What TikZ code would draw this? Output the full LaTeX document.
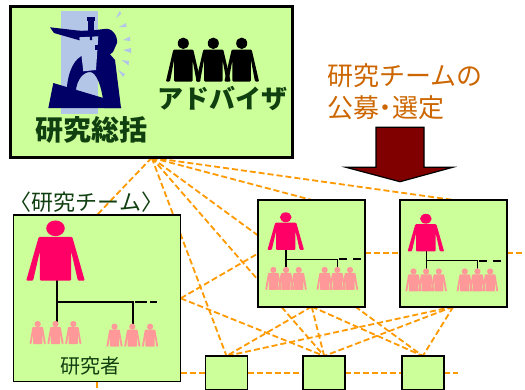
\documentclass[tikz,border=0pt]{standalone}
\usepackage{fontspec}
\newfontfamily\jp{Noto Sans CJK JP}
\pgfdeclarelayer{background}
\pgfsetlayers{background,main}
\definecolor{boxfill}{HTML}{CCFF99}
\definecolor{linkorange}{HTML}{FF9900}
\definecolor{leadpink}{HTML}{FF0066}
\definecolor{memberpink}{HTML}{FF9999}
\definecolor{navy}{HTML}{000066}
\definecolor{pale}{HTML}{B4C6E7}
\definecolor{ink}{HTML}{103F10}
\definecolor{callout}{HTML}{CC6600}
\definecolor{arrowred}{HTML}{800000}
\begin{document}
\begin{tikzpicture}[x=1pt,y=-1pt,
  box/.style={draw=black, fill=boxfill, line width=1.5pt, inner sep=0pt, outer sep=0pt},
  linkline/.style={draw=linkorange, line width=1.8pt, dash pattern=on 6pt off 3pt},
  org/.style={draw=black, line width=1.3pt},
  txt/.style={inner sep=0pt, text=ink},
  leader/.pic={
    \path[pic actions] (0,0) ellipse [x radius=5.8, y radius=4.9];
    \path[pic actions, rounded corners=1pt] (-10.5,5.4) -- (10.5,5.4) -- (18.3,32.7) -- (14,32.7)
      -- (9.7,14) -- (9.7,32.7) -- (-9.7,32.7) -- (-9.7,14) -- (-14,32.7) -- (-18.3,32.7) -- cycle;
  },
  member/.pic={
    \fill[memberpink] (0,0) circle [radius=3.1];
    \fill[memberpink, rounded corners=0.8pt] (-5.2,2.8) -- (5.2,2.8) -- (8.2,20) -- (6.2,20) -- (4.6,9)
      -- (4.6,20) -- (-4.6,20) -- (-4.6,9) -- (-6.2,20) -- (-8.2,20) -- cycle;
  },
  trio/.pic={
    \pic at (-12.7,0) {member};
    \pic at (0,0) {member};
    \pic at (12.7,0) {member};
  },
  team/.pic={
    \draw[org] (27.7,48) -- (27.7,68);
    \draw[org] (27.7,59.3) -- (79,59.3) -- (79,68);
    \draw[org, line width=1.8pt, dash pattern=on 8pt off 6pt] (81,59.3) -- (103,59.3);
    \pic[fill=leadpink] at (27.4,17.3) {leader};
    \pic at (27.7,70) {trio};
    \pic at (79,70) {trio};
  }
]
\useasboundingbox (0,0) rectangle (525,389);

% boxes
\node[box, line width=2.5pt, minimum width=282pt, minimum height=151pt] (T) at (151.7,82.2) {};
\node[box, minimum width=167.4pt, minimum height=166.7pt] (L) at (97,298.3) {};
\node[box, line width=2pt, minimum width=106.7pt, minimum height=106.7pt] (M1) at (311.7,253.3) {};
\node[box, line width=2pt, minimum width=106.7pt, minimum height=106.7pt] (M2) at (453.3,253.3) {};
\node[box, minimum width=42pt, minimum height=34pt] (B1) at (226.5,373) {};
\node[box, minimum width=42pt, minimum height=34pt] (B2) at (324.2,373) {};
\node[box, minimum width=42pt, minimum height=34pt] (B3) at (422.8,373) {};

\coordinate (edgeR) at (532,253.3);
\coordinate (tailB) at (458,373);
\coordinate (tailL) at (97,402);

% dashed links, kept behind the boxes
\begin{pgfonlayer}{background}
  \foreach \t in {L.north, B1.north, B2.north, B3.north, M1.north, M2.north}
    \draw[linkline] (T.south) -- (\t);
  \draw[linkline] (L.east) -- (M1.west);
  \draw[linkline] (L.east) -- (B2.north);
  \foreach \t in {B1.north, B2.north, B3.north}{
    \draw[linkline] (M1.south) -- (\t);
    \draw[linkline] (M2.south) -- (\t);
  }
  \draw[linkline] (M1.east) -- (M2.west);
  \draw[linkline] (M2.east) -- (edgeR);
  \draw[linkline] (L.east |- B1.west) -- (B1.west);
  \draw[linkline] (B1.east) -- (B2.west);
  \draw[linkline] (B2.east) -- (B3.west);
  \draw[linkline] (B3.east) -- (tailB);
  \draw[linkline] (L.south) -- (tailL);
\end{pgfonlayer}

% supervisor figure
\fill[pale] (61,10.7) rectangle (97.7,114);
\fill[navy] (53.3,83) -- (48.3,108) -- (121.7,108) -- (110,100) -- cycle;
\fill[navy] (66.7,90) .. controls (68,70) and (75,58) .. (84,55) -- (108,52) -- (115,60) -- (121,108)
  -- (104,108) .. controls (102,85) and (96,72) .. (90,72) .. controls (83,72) and (77,80) .. (76,90) -- cycle;
\fill[navy] (79,31) -- (96,30) -- (104,29) .. controls (112,27) and (118,36) .. (117,43)
  -- (113,52) -- (108,56) -- (84,58) -- cycle;
\fill[navy] (50,27.3) -- (82,31) -- (82,41) -- (54,33) -- cycle;
\fill[pale] (79.3,37.3) -- (98.3,36.3) -- (96,70) -- (83.3,71.3) -- cycle;
\fill[navy] (95,44.5) rectangle (105,49.7);
\fill[navy] (89.5,31) -- (92.5,31) -- (92,40) -- (90,40) -- cycle;
\fill[navy] (86.7,17.3) rectangle (95,20.7);
\fill[navy] (88.3,20) rectangle (94.3,31.3);
\foreach \p in {{(116,18) -- (120,10.5) -- (121,14)},
                {(119,27) -- (126,23) -- (126.5,27)},
                {(123,40) -- (130,36.5) -- (130,41)},
                {(123,50) -- (131,48) -- (131,53)},
                {(121.5,60) -- (129,61) -- (128.5,65.5)},
                {(118,70) -- (125,74) -- (123,77)}}
  \fill[pale] \p -- cycle;

% advisors
\foreach \x in {241.7, 213.3, 183.3}
  \pic[fill=black, xscale=0.95, yscale=1.17] at (\x,43.3) {leader};

\node[txt, font={\jp\bfseries\fontsize{28}{30}\selectfont}] (tSup) at (91,130) {研究総括};
\node[txt, font={\jp\bfseries\fontsize{26}{28}\selectfont}] (tAdv) at (222,98.5) {アドバイザ};

% call for teams
\node[inner sep=0pt, text=callout, anchor=west, font={\jp\fontsize{26}{28}\selectfont}] (tCall1) at (327,76) {研究チームの};
\node[inner sep=0pt, text=callout, anchor=west, font={\jp\fontsize{26}{28}\selectfont}] (tCall2) at (327,107.5) {公募\kern-7pt・\kern-6pt選定};
\draw[fill=arrowred, draw=black, line width=1.2pt] (376,127.3) -- (424,127.3) -- (424,167.3) -- (452.7,167.3)
  -- (400,181.7) -- (346,167.3) -- (376,167.3) -- cycle;

% research team
\node[txt, font={\jp\fontsize{22}{24}\selectfont}] (tTeam) at (86.5,202.5) {〈研究チーム〉};
\draw[org, line width=2pt] (56.5,279) -- (56.5,322);
\draw[org, line width=2pt] (56.5,301.7) -- (132.7,301.7) -- (132.7,324);
\draw[org, line width=2pt, dash pattern=on 12pt off 3pt] (135,301.7) -- (157,301.7);
\pic[fill=leadpink, scale=1.6] at (55.5,228.3) {leader};
\pic[scale=1.4] at (55.5,324) {trio};
\pic[scale=1.4] at (132.3,326.7) {trio};
\node[txt, font={\jp\fontsize{20}{22}\selectfont}] (tRes) at (90,366) {研究者};

\pic at (M1.north west) {team};
\pic at ([shift={(-1.5,1.5)}]M2.north west) {team};
\end{tikzpicture}
\end{document}
